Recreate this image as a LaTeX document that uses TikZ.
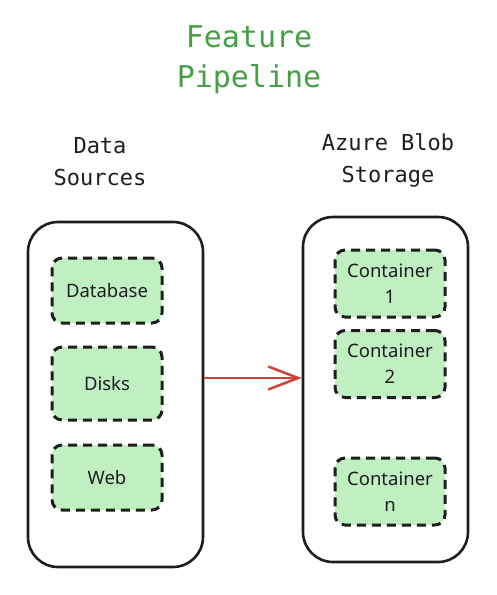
\documentclass[tikz,border=0pt]{standalone}
\usepackage{fontspec}
\usepackage{xcolor}
\definecolor{titlegreen}{HTML}{45A045}
\definecolor{boxgreen}{HTML}{C0F0C2}
\definecolor{arrowred}{HTML}{D0413A}
\definecolor{inkblack}{HTML}{1E1E1E}
\newfontfamily\handfont{DejaVu Sans Mono}
\newfontfamily\boxfont{Noto Sans}
\usepackage{tikz}
\usetikzlibrary{arrows.meta, positioning}

\tikzset{
	outerbox/.style={draw=inkblack, line width=2.6pt, rounded corners=30pt, minimum width=#1, minimum height=345pt},
	innerbox/.style={draw=inkblack, fill=boxgreen, line width=3pt, dash pattern=on 9pt off 6pt, rounded corners=10pt,
		minimum width=110pt, minimum height=#1, align=center, text=inkblack, font=\boxfont\fontsize{18.5}{26}\selectfont},
	handlabel/.style={align=center, text=inkblack, font=\handfont\fontsize{22}{32}\selectfont},
}

\begin{document}
\begin{tikzpicture}[x=1pt, y=-1pt]

\useasboundingbox (0,0) rectangle (497,595);

% title
\node[align=center, text=titlegreen, font=\handfont\fontsize{30}{40}\selectfont] (title) at (249, 60) {Feature\\Pipeline};

\node[handlabel] (srclabel) at (100, 162) {Data\\Sources};
\node[handlabel] (storelabel) at (388, 160.5) {Azure Blob\\Storage};

% outer boxes
\node[outerbox=175pt] (src) at (115.5, 394.5) {};
\node[outerbox=165pt] (store) at (385.5, 389.5) {};

% data sources
\foreach \name/\txt/\y/\h in {db/Database/290.5/65pt, disks/Disks/383.5/73pt, web/Web/477.5/65pt} {
	\node[innerbox=\h] (\name) at (107, \y) {\txt};
}

% containers
\foreach \name/\txt/\y in {cone/1/283.5, ctwo/2/364, cn/n/491.5} {
	\node[innerbox=67pt] (\name) at (390, \y) {Container\\\txt};
}

\coordinate (arrowy) at (0, 378);
\draw[arrowred, line width=2.5pt, -{Straight Barb[length=30pt, width=23pt, line width=2.5pt]}] (src.east |- arrowy) -- (store.west |- arrowy); % feed

\end{tikzpicture}
\end{document}
